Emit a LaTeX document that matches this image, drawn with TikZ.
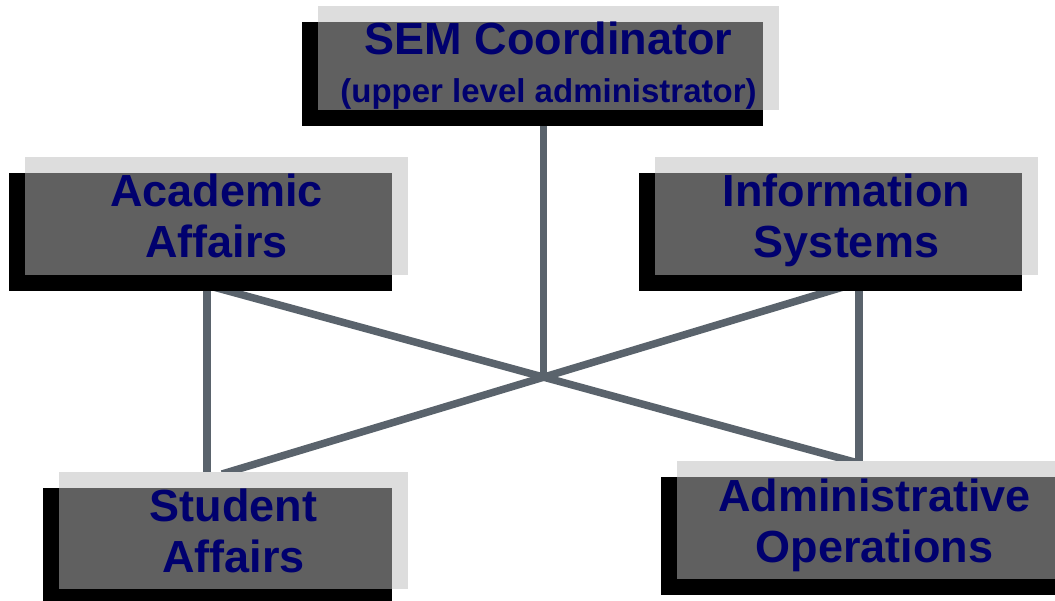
\documentclass[tikz,border=0pt]{standalone}
\usepackage{fontspec}
\setmainfont{Liberation Sans}
\usetikzlibrary{shadows,backgrounds}
\definecolor{boxlight}{RGB}{221,221,221}
\definecolor{boxdark}{RGB}{96,96,96}
\definecolor{navytext}{RGB}{0,0,110}
\definecolor{linkgray}{RGB}{90,99,108}
\tikzset{
  orgbox/.style={inner sep=0pt, outer sep=0pt, fill=boxlight, align=center,
    text=navytext, font=\bfseries\fontsize{45}{51}\selectfont,
    general shadow={fill=black, shadow xshift=-16pt, shadow yshift=-16pt},
    path picture={\fill[boxdark] (path picture bounding box.south west) rectangle ([xshift=-16pt,yshift=-16pt]path picture bounding box.north east);}},
  twoline/.style={text height=92pt, text depth=8pt},
  link/.style={draw=linkgray, line width=7.5pt}
}
\begin{document}
\begin{tikzpicture}[x=1pt,y=-1pt]
\useasboundingbox (0,0) rectangle (1055,601);
\coordinate (hub) at (543.6,377);
\node[orgbox, minimum width=461pt, minimum height=104pt, text height=96pt, text depth=6pt] (sem) at (548.5,58)
  {SEM Coordinator\\[-3pt]{\fontsize{33}{38}\selectfont (upper level administrator)}};
\node[orgbox, twoline, minimum width=383pt, minimum height=118pt] (acad) at (216.5,216) {Academic\\Affairs};
\node[orgbox, twoline, minimum width=383pt, minimum height=118pt] (info) at (846.5,216) {Information\\Systems};
\node[orgbox, twoline, minimum width=349pt, minimum height=117pt] (stud) at (233.5,530.5) {Student\\Affairs};
\node[orgbox, twoline, minimum width=395pt, minimum height=118pt] (admin) at (874.5,520) {Administrative\\Operations};
\begin{pgfonlayer}{background}
  \draw[link] ([xshift=-4.9pt]sem.south) -- (hub);
  \draw[link] ([xshift=-47pt]acad.south) -- ([xshift=-16.5pt,yshift=-2pt]admin.north);
  \draw[link] ([xshift=36.5pt]info.south) -- ([xshift=-11.5pt,yshift=-2pt]stud.north);
  \draw[link] ([xshift=-9.5pt]acad.south) -- ([xshift=-26.5pt,yshift=-2pt]stud.north);
  \draw[link] ([xshift=12.5pt]info.south) -- ([xshift=-15.5pt,yshift=-4pt]admin.north);
\end{pgfonlayer}
\end{tikzpicture}
\end{document}
